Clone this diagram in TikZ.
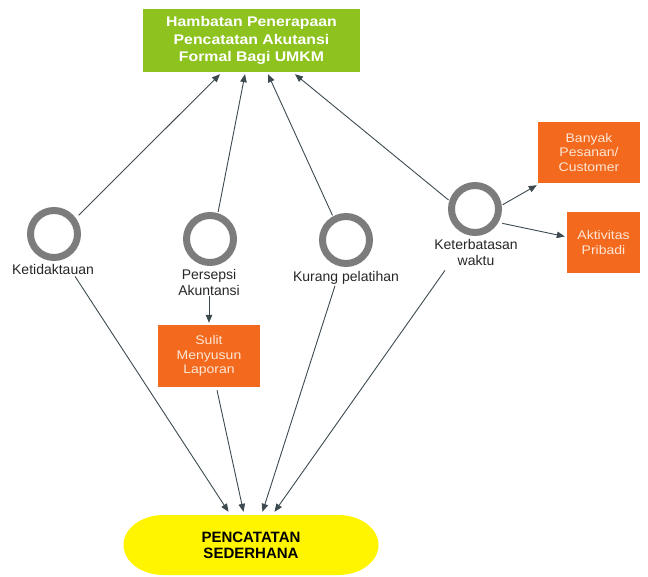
\documentclass[tikz,border=0pt]{standalone}
\usepackage{fontspec}
\setmainfont{Liberation Sans}
\newfontfamily\stretchfont[FakeStretch=1.12]{Liberation Sans}
\newfontfamily\titlefont[FakeStretch=1.13]{Liberation Sans}
\usetikzlibrary{arrows.meta,calc}
\definecolor{greenbox}{HTML}{8DC21F}
\definecolor{orbox}{HTML}{F36A1E}
\definecolor{ortext}{HTML}{FDE6D6}
\definecolor{ringgray}{HTML}{7C7C7C}
\definecolor{labcol}{HTML}{262626}
\definecolor{conncol}{HTML}{3C4A50}
\definecolor{yellowfill}{HTML}{FFF500}
\begin{document}
\begin{tikzpicture}[x=1pt,y=-1pt,
  ring/.style={circle, draw=ringgray, line width=7pt, minimum size=47pt, inner sep=0pt, fill=white},
  lab/.style={font=\fontsize{14}{16}\selectfont, text=labcol, align=center, inner sep=1pt},
  obox/.style={fill=orbox, text=ortext, font=\stretchfont\fontsize{12.5}{14.5}\selectfont, align=center, inner sep=0pt, minimum height=61pt},
  conn/.style={draw=conncol, line width=0.9pt, -{Triangle[length=8pt,width=6.5pt]}},
]
\useasboundingbox (0,0) rectangle (648,577);

% title box
\node[fill=greenbox, text=white, font=\titlefont\bfseries\fontsize{14}{17.5}\selectfont,
      align=center, minimum width=217pt, minimum height=63pt, inner sep=0pt]
      (g) at (251.5,40.5) {Hambatan Penerapaan\\Pencatatan Akutansi\\Formal Bagi UMKM};

% bottom shape (stadium with elliptical ends)
\fill[yellowfill] (163.5,515) -- (338.5,515)
   arc[start angle=-90, end angle=90, x radius=40, y radius=30]
   -- (163.5,575)
   arc[start angle=90, end angle=270, x radius=40, y radius=30] -- cycle;
\node[minimum width=255pt, minimum height=60pt,
      inner sep=0pt, align=center, font=\bfseries\fontsize{15}{16}\selectfont, text=black]
      (e) at (251,545) {PENCATATAN\\SEDERHANA};

% rings
\node[ring] (c1) at (54,234) {};
\node[ring] (c2) at (210,239) {};
\node[ring] (c3) at (346,240) {};
\node[ring] (c4) at (475,209) {};

% labels
\node[lab] (l1) at (53,269) {Ketidaktauan};
\node[lab] (l2) at (209,282) {Persepsi\\Akuntansi};
\node[lab] (l3) at (346,278) {Kurang pelatihan};
\node[lab] (l4) at (476,252) {Keterbatasan\\waktu};

% orange boxes
\node[obox, minimum width=102pt] (o1) at (589,152.5) {Banyak\\Pesanan/\\Customer};
\node[obox, minimum width=73pt] (o2) at (603.5,242.5) {Aktivitas\\Pribadi};
\node[obox, minimum width=102pt, minimum height=62pt] (o3) at (209,356) {Sulit\\Menyusun\\Laporan};

% connectors to title
\draw[conn, shorten <=4pt] (c1.36) -- ($(g.south)+(-31.5,2)$);
\draw[conn, shorten <=1pt] (c2.73) -- ($(g.south)+(-6.5,2)$);
\draw[conn, shorten <=1pt] (c3.119) -- ($(g.south)+(16.5,2)$);
\draw[conn, shorten <=1pt] (c4.162) -- ($(g.south)+(43.5,2)$);

% connectors to bottom shape
\draw[conn] ($(l1.south)+(22,1)$) -- ($(e.north)+(-22.5,-3)$);
\draw[conn] ($(o3.south)+(8,3)$) -- ($(e.north)+(-7.5,-3)$);
\draw[conn] ($(l3.south)+(-11,0)$) -- ($(e.north)+(11.5,-3)$);
\draw[conn] ($(l4.south)+(-31,4)$) -- ($(e.north)+(23.5,-3)$);

% other connectors
\draw[conn] (l2.south) -- ($(o3.north)+(0,-2)$);
\draw[conn, shorten <=1pt] (c4.8) -- ($(o1.south west)+(-1,2)$);
\draw[conn, shorten <=4pt] (c4.-30) -- ($(o2.west)+(-2,-6)$);
\end{tikzpicture}
\end{document}
